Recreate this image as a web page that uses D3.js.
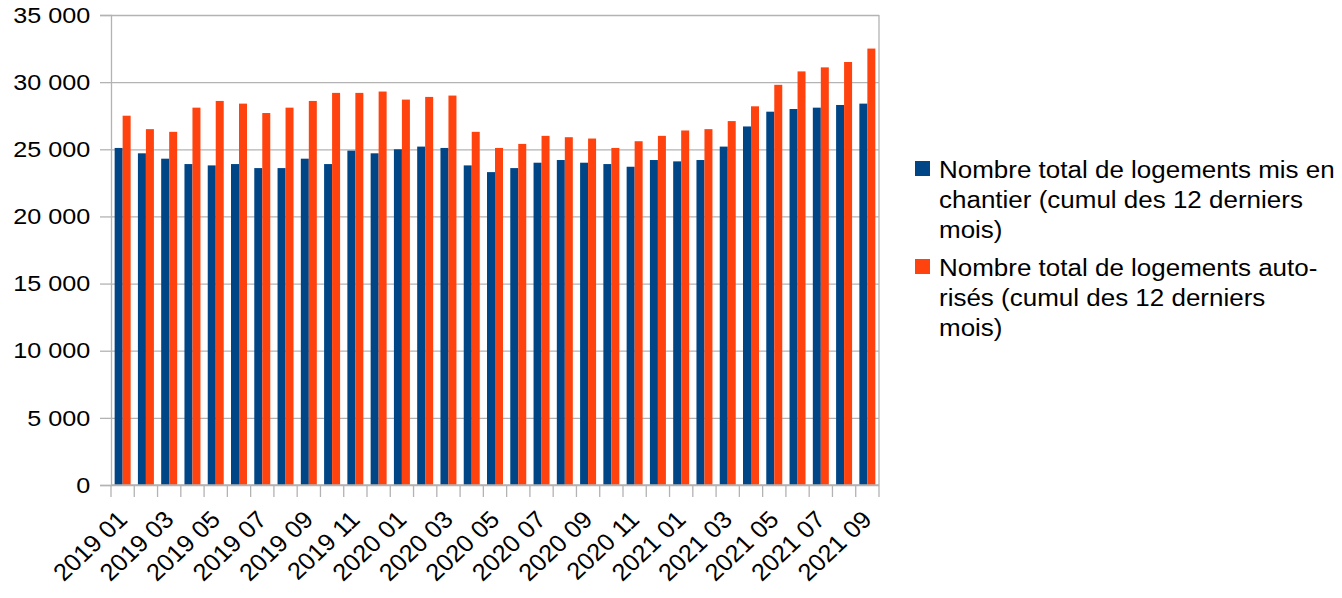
<!DOCTYPE html>
<html>
<head>
<meta charset="utf-8">
<script src="https://cdn.jsdelivr.net/npm/d3@7"></script>
<style>
  body { margin: 0; background: #fff; }
  svg text { font-family: "Liberation Sans", Arial, sans-serif; fill: #000; }
</style>
</head>
<body>
<svg class="canvas" width="1342" height="598"></svg>
<script>
// categories (month of the 12-month rolling total)
var months = ['2019 01', '2019 02', '2019 03', '2019 04', '2019 05', '2019 06', '2019 07', '2019 08',
              '2019 09', '2019 10', '2019 11', '2019 12', '2020 01', '2020 02', '2020 03', '2020 04',
              '2020 05', '2020 06', '2020 07', '2020 08', '2020 09', '2020 10', '2020 11', '2020 12',
              '2021 01', '2021 02', '2021 03', '2021 04', '2021 05', '2021 06', '2021 07', '2021 08', '2021 09'];

// logements mis en chantier
var chantier = [25100, 24700, 24300, 23900, 23800, 23900, 23600, 23600, 24300, 23900, 24900, 24700,
                25000, 25200, 25100, 23800, 23300, 23600, 24000, 24200, 24000, 23900, 23700,
                24200, 24100, 24200, 25200, 26700, 27800, 28000, 28100, 28300, 28400];

// logements autorisés
var autorises = [27500, 26500, 26300, 28100, 28600, 28400, 27700, 28100, 28600, 29200, 29200, 29300,
                 28700, 28900, 29000, 26300, 25100, 25400, 26000, 25900, 25800, 25100, 25600,
                 26000, 26400, 26500, 27100, 28200, 29800, 30800, 31100, 31500, 32500];

var yTicks = [0, 5000, 10000, 15000, 20000, 25000, 30000, 35000];

var series = ['chantier', 'autorises'];
var colors = ['#004586', '#ff420e'];
var legendLines = [
    ['Nombre total de logements mis en', 'chantier (cumul des 12 derniers', 'mois)'],
    ['Nombre total de logements auto-', 'risés (cumul des 12 derniers', 'mois)']
];

var fr = d3.formatLocale({decimal: ',', thousands: ' ', grouping: [3], currency: ['', ' €']});
var fmt = fr.format(',d');

var plotL = 111, plotR = 879, plotT = 15, plotB = 485;
var grid_ = '#b3b3b3';
var sx = 1.12; // text in the picture is a bit wide

const canvas = d3.select('.canvas');

var data = months.map(function(m, i) {
    return {month: m, chantier: chantier[i], autorises: autorises[i], idx: i};
});

var x = d3.scaleBand()
    .domain(months)
    .range([plotL, plotR])
    .paddingInner(0.313)
    .paddingOuter(0.1565);

var x1 = d3.scaleBand()
    .domain(series)
    .range([0, x.bandwidth()]);

var y = d3.scaleLinear()
    .domain([0, 35000])
    .range([plotB, plotT]);

// grid lines
canvas.append('g')
    .attr('transform', 'translate(' + plotL + ',0)')
    .call(d3.axisLeft(y).tickValues(yTicks).tickSize(-(plotR - plotL)).tickFormat(''))
    .call(function(g) {
        g.select('.domain').remove();
        g.selectAll('line').attr('stroke', grid_).attr('stroke-width', 1.3);
    });

// right frame
canvas.append('line')
    .attr('x1', plotR).attr('x2', plotR)
    .attr('y1', y(35000)).attr('y2', y(0))
    .attr('stroke', grid_).attr('stroke-width', 1.3);

// bars
var groups = canvas.selectAll('.grp')
    .data(data)
    .enter()
    .append('g')
    .attr('class', 'grp')
    .attr('transform', function(d) { return 'translate(' + x(d.month) + ',0)'; });

groups.selectAll('rect')
    .data(function(d) { return series.map(function(s, j) { return {key: s, value: d[s], j: j}; }); })
    .enter()
    .append('rect')
    .attr('x', function(d) { return x1(d.key); })
    .attr('width', x1.bandwidth())
    .attr('y', function(d) { return y(d.value); })
    .attr('height', function(d) { return y(0) - y(d.value); })
    .style('fill', function(d) { return colors[d.j]; });

// y axis
canvas.append('g')
    .attr('transform', 'translate(' + plotL + ',0)')
    .call(d3.axisLeft(y).tickValues(yTicks).tickSize(11).tickPadding(7.5).tickFormat(fmt))
    .call(function(g) {
        g.select('.domain').attr('stroke', grid_).attr('stroke-width', 1.3);
        g.selectAll('.tick line').attr('stroke', grid_).attr('stroke-width', 1.3);
        g.selectAll('.tick text')
            .attr('font-size', '22.5px')
            .attr('font-family', null)
            .attr('transform', 'scale(' + sx + ',1)');
    });

// x axis line and ticks on category boundaries
var step = x.step();
var bounds = months.map(function(m) { return x(m) - x.paddingInner() * step / 2; });
bounds.push(plotR);

canvas.append('line')
    .attr('x1', plotL).attr('x2', plotR)
    .attr('y1', plotB).attr('y2', plotB)
    .attr('stroke', grid_).attr('stroke-width', 1.3);

canvas.selectAll('.xtick')
    .data(bounds)
    .enter()
    .append('line')
    .attr('class', 'xtick')
    .attr('x1', function(d) { return d; }).attr('x2', function(d) { return d; })
    .attr('y1', plotB).attr('y2', plotB + 12)
    .attr('stroke', grid_).attr('stroke-width', 1.3);

canvas.selectAll('.xlab')
    .data(data.filter(function(d) { return d.idx % 2 === 0; }))
    .enter()
    .append('text')
    .attr('class', 'xlab')
    .attr('font-size', '24px')
    .attr('text-anchor', 'end')
    .attr('transform', function(d) {
        var cx = x(d.month) + x.bandwidth() / 2;
        return 'translate(' + (cx + 6) + ',' + (plotB + 36) + ') scale(1.06,1) rotate(-45)';
    })
    .text(function(d) { return d.month; });

// legend
var legend = canvas.append('g').attr('class', 'legend');
var entryTop = [161, 259];

legendLines.forEach(function(lines, i) {
    legend.append('rect')
        .attr('x', 915).attr('y', entryTop[i])
        .attr('width', 15).attr('height', 15)
        .style('fill', colors[i]);

    var t = legend.append('g')
        .attr('transform', 'translate(939,0) scale(1.13,1)');
    lines.forEach(function(l, k) {
        t.append('text')
            .attr('x', 0)
            .attr('y', entryTop[i] + 17 + k * 30)
            .attr('font-size', '23px')
            .text(l);
    });
});
</script>
</body>
</html>
